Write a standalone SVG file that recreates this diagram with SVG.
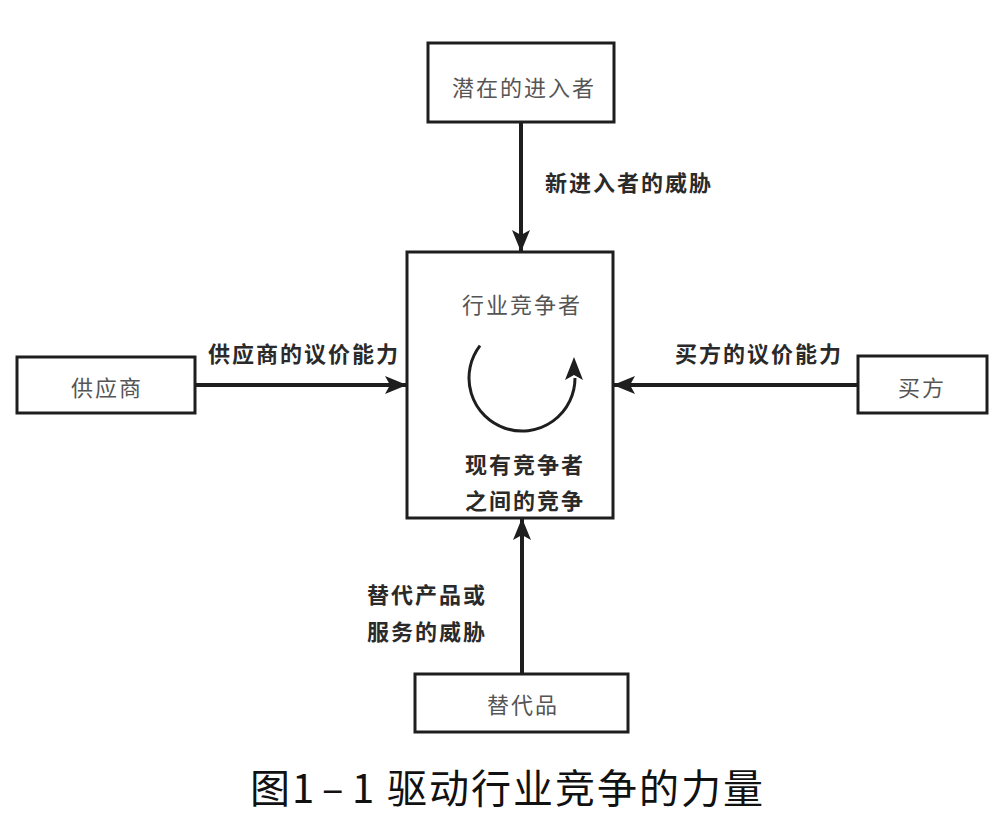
<svg xmlns="http://www.w3.org/2000/svg" width="1008" height="826" viewBox="0 0 1008 826">
  <defs>
    <style>
      .box { fill: #ffffff; stroke: #1e1e1e; stroke-width: 3; }
      .node-label { font-family: "Noto Sans CJK SC", "Noto Sans", sans-serif; font-size: 22px; fill: #555555; letter-spacing: 2px; dominant-baseline: central; }
      .edge-label { font-family: "Noto Sans CJK SC", "Noto Sans", sans-serif; font-size: 22px; font-weight: bold; fill: #2a2a2a; letter-spacing: 2px; dominant-baseline: central; }
      .conn { stroke: #1e1e1e; stroke-width: 4; fill: none; }
      .caption { font-family: "Noto Sans CJK SC", "Noto Sans", sans-serif; font-size: 40px; fill: #111111; dominant-baseline: central; }
    </style>
    <marker id="arrow" viewBox="0 0 22 18" refX="21" refY="9" markerWidth="22" markerHeight="18" markerUnits="userSpaceOnUse" orient="auto">
      <path d="M0,0 L22,9 L0,18 L5,9 Z" fill="#1e1e1e"/>
    </marker>
  </defs>
  <rect width="1008" height="826" fill="#ffffff"/>

  <g id="connectors">
    <line class="conn" x1="521" y1="122" x2="521" y2="251" marker-end="url(#arrow)"/>
    <line class="conn" x1="195" y1="385" x2="406" y2="385" marker-end="url(#arrow)"/>
    <line class="conn" x1="858" y1="385" x2="614" y2="385" marker-end="url(#arrow)"/>
    <line class="conn" x1="522" y1="674" x2="522" y2="519" marker-end="url(#arrow)"/>
    <text class="edge-label" x="545" y="181">新进入者的威胁</text>
    <text class="edge-label" x="208" y="352">供应商的议价能力</text>
    <text class="edge-label" x="675" y="352">买方的议价能力</text>
    <text class="edge-label" x="367" y="593">替代产品或</text>
    <text class="edge-label" x="367" y="630">服务的威胁</text>
  </g>

  <g id="node-entrants">
    <rect class="box" x="428" y="43" width="186" height="79"/>
    <text class="node-label" x="452" y="86">潜在的进入者</text>
  </g>

  <g id="node-industry">
    <rect class="box" x="407" y="252" width="206" height="266"/>
    <text class="node-label" x="462" y="303">行业竞争者</text>
    <path d="M480,345.7 A53,53 0 1 0 575,378" fill="none" stroke="#1e1e1e" stroke-width="3"/>
    <path d="M574,357 L583,380 L574,375 L565,380 Z" fill="#1e1e1e"/>
    <text class="edge-label" x="465" y="463">现有竞争者</text>
    <text class="edge-label" x="465" y="499">之间的竞争</text>
  </g>

  <g id="node-suppliers">
    <rect class="box" x="17" y="357" width="178" height="56"/>
    <text class="node-label" x="71" y="386">供应商</text>
  </g>

  <g id="node-buyers">
    <rect class="box" x="858" y="356" width="129" height="57"/>
    <text class="node-label" x="898" y="386">买方</text>
  </g>

  <g id="node-substitutes">
    <rect class="box" x="415" y="674" width="213" height="58"/>
    <text class="node-label" x="487" y="703">替代品</text>
  </g>

  <g id="caption">
    <text class="caption" y="786"><tspan x="250">图</tspan><tspan x="292">1</tspan><tspan x="322">–</tspan><tspan x="352">1</tspan><tspan x="387" letter-spacing="2">驱动行业竞争的力量</tspan></text>
  </g>
</svg>
